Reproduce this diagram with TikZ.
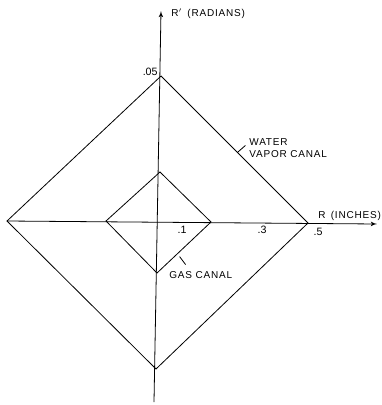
\documentclass[tikz,border=0pt]{standalone}
\usepackage{fontspec}
\setmainfont{Liberation Sans}
\newfontfamily\wideletters[LetterSpace=8]{Liberation Sans}
\usetikzlibrary{arrows,positioning,calc}

\begin{document}
\begin{tikzpicture}[x=0.75pt,y=-0.75pt,>=latex',line width=0.6pt]
		\tikzstyle{lbl}=[inner sep=0pt,font=\wideletters\fontsize{7.5}{9}\selectfont]
		\tikzstyle{tick_lbl}=[inner sep=0pt,font=\fontsize{8}{9}\selectfont]
		\useasboundingbox (0,0) rectangle (382,405);
		
		\coordinate (ytop) at (161,11);
		\coordinate (ybot) at (154,402);
		\coordinate (xright) at (377,224);
		
		% water vapor canal
		\coordinate (wtop) at (161,76);
		\coordinate (wleft) at (7,221);
		\coordinate (wright) at (308,223);
		\coordinate (wbot) at (156,369);
		% gas canal
		\coordinate (gtop) at (160,172);
		\coordinate (gleft) at (106,221);
		\coordinate (gright) at (211,222);
		\coordinate (gbot) at (157,273);
		
		\draw[->] (ybot) -- (ytop);
		\draw[->] (wleft) -- (xright);
		\draw (wtop) -- (wright) -- (wbot) -- (wleft) -- cycle;
		\draw (gtop) -- (gright) -- (gbot) -- (gleft) -- cycle;
		
		\node[lbl,anchor=west] (yname) at (171,14) {R$'$ \,(RADIANS)};
		\node[lbl,anchor=west] (xname) at (318,216) {R \,(INCHES)};
		\node[tick_lbl,anchor=east] (yval) at (158,72) {.05};
		\node[tick_lbl] (xval1) at (182,230) {.1};
		\node[tick_lbl] (xval3) at (262,230) {.3};
		\node[tick_lbl] (xval5) at (318,232) {.5};
		
		\node[lbl,anchor=north west,align=left] (water) at (249,138) {WATER\\VAPOR CANAL};
		\node[lbl,anchor=west] (gas) at (169,275) {GAS CANAL};
		\coordinate (wmark) at ($(wtop)!0.52!(wright)$);
		\coordinate (wmark_end) at ($(wmark)+(8,-7)$);
		\coordinate (gmark) at ($(gright)!0.6!(gbot)+(1,4)$);
		\coordinate (gmark_end) at ($(gmark)+(6,8)$);
		\draw (wmark) -- (wmark_end);
		\draw (gmark) -- (gmark_end);
\end{tikzpicture}
\end{document}
